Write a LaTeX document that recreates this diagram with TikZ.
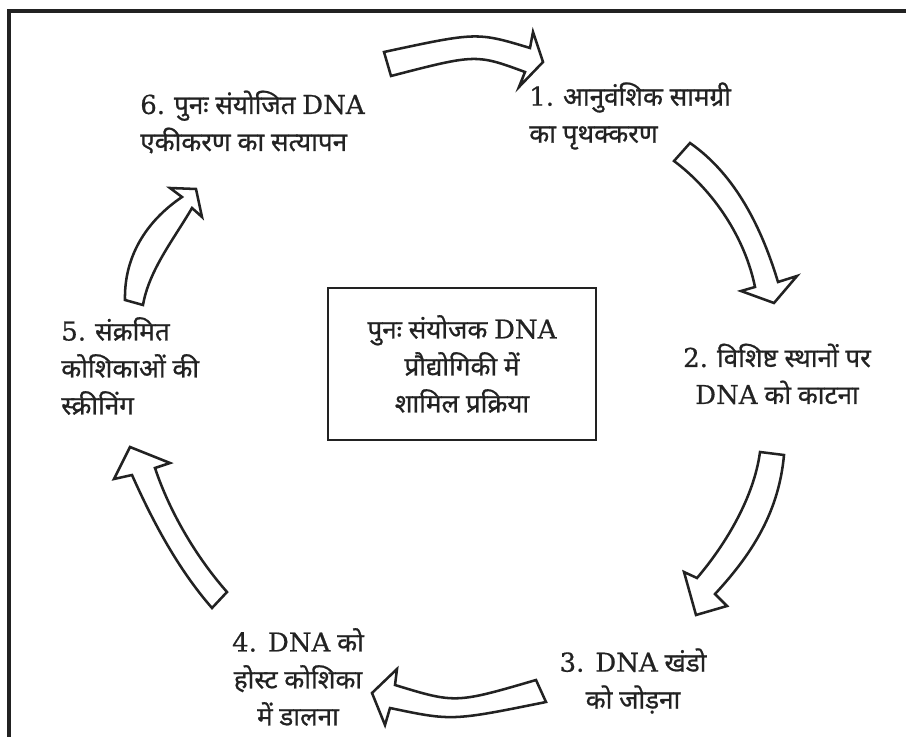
\documentclass[tikz,border=0pt]{standalone}
\usepackage{fontspec}
\newfontfamily\devfont[Script=Devanagari,RawFeature={embolden=0.8}]{Noto Sans}
\newfontfamily\latfont[RawFeature={embolden=0.6}]{DejaVu Serif}
\definecolor{ink}{HTML}{222222}

\begin{document}
\begin{tikzpicture}[x=0.75pt,y=0.75pt,yscale=-1,xscale=1,
  blockarr/.style={draw=ink,line width=1.9pt,fill=white},
  lbl/.style={inner sep=0.75pt,text=ink,font=\devfont\fontsize{19.5}{27.75}\selectfont}]
\useasboundingbox (0,0) rectangle (906,737);

%Shape: Frame
\draw [ink,line width=2.4pt] (9,737) -- (9,11) -- (906,11) ;

%Shape: Block Arrow 6 to 1
\draw [blockarr] (384,52) .. controls (477,32) .. (530,48) -- (533,32) -- (543,62) -- (519,87) -- (525,72) .. controls (476,54) .. (391,76) -- cycle ;
%Shape: Block Arrow 1 to 2
\draw [blockarr] (690,143) .. controls (736,175) and (762,229) .. (778,282) -- (797,276) -- (774,303) -- (741,291) -- (755,287) .. controls (745,238) and (714,191) .. (674,161) -- cycle ;
%Shape: Block Arrow 2 to 3
\draw [blockarr] (784,455) .. controls (779,510) and (754,552) .. (715,594) -- (727,606) -- (696,615) -- (684,572) -- (697,578) .. controls (726,544) and (754,497) .. (760,452) -- cycle ;
%Shape: Block Arrow 3 to 4
\draw [blockarr] (536,680) .. controls (455.5,703.5) .. (395,685) -- (397,669) -- (372,693) -- (385,725) -- (390,708) .. controls (452,721) .. (546,702) -- cycle ;
%Shape: Block Arrow 4 to 5
\draw [blockarr] (212,608) .. controls (178,569) and (153,522) .. (132,475) -- (114,479) -- (130,447) -- (170,463) -- (155,468) .. controls (170,513) and (197,558) .. (227,592) -- cycle ;
%Shape: Block Arrow 5 to 6
\draw [blockarr] (125,300) .. controls (124,258) and (145,222) .. (182,197) -- (170,188) -- (196,189) -- (202,217) -- (192,208) .. controls (174,239) and (149,270) .. (143,305) -- cycle ;

% Text Node
\draw (462,364) node [lbl,draw=ink,line width=1.5pt,align=center,minimum width=201pt,minimum height=114pt] (core) {पुनः संयोजक {\latfont DNA}\\प्रौद्योगिकी में\\शामिल प्रक्रिया};
% Text Node
\draw (528,116) node [lbl,anchor=west,align=left] (s1) {{\latfont 1.} आनुवंशिक सामग्री\\का पृथक्करण};
% Text Node
\draw (777,374) node [lbl,align=center] (s2) {{\latfont 2.} विशिष्ट स्थानों पर\\{\latfont DNA} को काटना};
% Text Node
\draw (633,681) node [lbl,align=center] (s3) {{\latfont 3. DNA} खंडो\\को जोड़ना};
% Text Node
\draw (298,677) node [lbl,align=center] (s4) {{\latfont 4. DNA} को\\होस्ट कोशिका\\में डालना};
% Text Node
\draw (60,366) node [lbl,anchor=west,align=left] (s5) {{\latfont 5.} संक्रमित\\कोशिकाओं की\\स्क्रीनिंग};
% Text Node
\draw (139,122) node [lbl,anchor=west,align=left] (s6) {{\latfont 6.} पुनः संयोजित {\latfont DNA}\\एकीकरण का सत्यापन};

\end{tikzpicture}
\end{document}
